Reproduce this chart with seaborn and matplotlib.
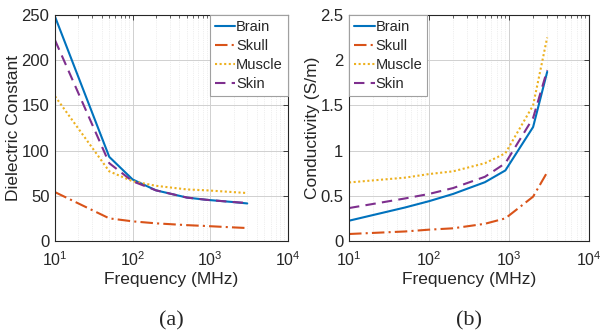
import numpy as np
import pandas as pd
import matplotlib
matplotlib.use("Agg")
import matplotlib.pyplot as plt
import seaborn as sns
from matplotlib.ticker import FuncFormatter, LogLocator, NullFormatter

# ---- data ----
freq = [10, 50, 100, 200, 500, 900, 2000, 3000]
tissues = ["Brain", "Skull", "Muscle", "Skin"]
eps_brain = [248, 93, 68, 56, 48, 45.5, 43, 41.5]
eps_skull = [54, 25, 21.7, 19.5, 17.5, 16.5, 15, 14.3]
eps_muscle = [160, 77, 66, 61, 57, 56, 54, 53]
eps_skin = [222, 86, 66, 56, 48, 45.5, 43, 42]

sig_brain = [0.224, 0.37, 0.44, 0.52, 0.65, 0.78, 1.26, 1.87]
sig_skull = [0.077, 0.105, 0.125, 0.14, 0.19, 0.25, 0.49, 0.76]
sig_muscle = [0.647, 0.70, 0.74, 0.77, 0.86, 0.97, 1.50, 2.25]
sig_skin = [0.364, 0.47, 0.52, 0.585, 0.71, 0.86, 1.36, 1.89]

xlabel = "Frequency (MHz)"
ylabels = ["Dielectric Constant", "Conductivity (S/m)"]
captions = ["(a)", "(b)"]

colors = {"Brain": "#0072BD", "Skull": "#D95319", "Muscle": "#EDB120", "Skin": "#7E2F8E"}
dashes = {"Brain": "", "Skull": (6, 2, 1, 2), "Muscle": (1, 1.2), "Skin": (5, 3)}

def frame(vals):
    rows = []
    for t, v in zip(tissues, vals):
        for f, y in zip(freq, v):
            rows.append({"Frequency": f, "Value": y, "Tissue": t})
    return pd.DataFrame(rows)

df_eps = frame([eps_brain, eps_skull, eps_muscle, eps_skin])
df_sig = frame([sig_brain, sig_skull, sig_muscle, sig_skin])

sns.set_theme(style="white")
plt.rcParams["font.family"] = ["Liberation Sans", "DejaVu Sans"]
plt.rcParams["mathtext.fontset"] = "custom"
plt.rcParams["mathtext.rm"] = "Liberation Sans"
plt.rcParams["mathtext.it"] = "Liberation Sans:italic"
plt.rcParams["mathtext.bf"] = "Liberation Sans:bold"

fig = plt.figure(figsize=(6, 3.31), dpi=100)
ax1 = fig.add_axes([0.0917, 0.272, 0.388, 0.683])
ax2 = fig.add_axes([0.5817, 0.272, 0.400, 0.683])

def style_ax(ax, df, ylim, yticks, legend_loc, ylabel, caption, ylab_x):
    sns.lineplot(data=df, x="Frequency", y="Value", hue="Tissue", style="Tissue",
                 palette=colors, dashes=dashes, hue_order=tissues, style_order=tissues,
                 linewidth=1.5, ax=ax, legend=False, estimator=None, sort=False)
    ax.set_xscale("log")
    ax.set_xlim(10, 1e4)
    ax.set_ylim(*ylim)
    ax.set_yticks(yticks)
    ax.yaxis.set_major_formatter(FuncFormatter(lambda v, p: f"{v:g}"))
    ax.xaxis.set_major_locator(LogLocator(base=10, numticks=10))
    ax.xaxis.set_minor_locator(LogLocator(base=10, subs=np.arange(2, 10), numticks=20))
    ax.xaxis.set_minor_formatter(NullFormatter())
    ax.grid(True, which="major", color="#d0d0d0", linewidth=0.7)
    ax.grid(True, which="minor", axis="x", color="#e0e0e0", linewidth=0.5, linestyle=":")
    ax.tick_params(which="both", direction="in", top=True, right=True,
                   labelsize=12, colors="#262626")
    ax.tick_params(axis="x", which="major", pad=7, labelsize=11.5)
    ax.tick_params(axis="y", which="major", pad=4)
    ax.tick_params(which="major", length=3.5, width=0.6)
    ax.tick_params(which="minor", length=2, width=0.5)
    for s in ax.spines.values():
        s.set_color("#262626")
        s.set_linewidth(0.8)
    ax.set_xlabel(xlabel, fontsize=12.5, color="#262626", labelpad=2)
    ax.set_ylabel(ylabel, fontsize=12.5, color="#262626")
    ax.yaxis.set_label_coords(ylab_x, 0.5)
    handles = [plt.Line2D([], [], color=colors[t], linewidth=1.5,
                          linestyle=(0, dashes[t]) if dashes[t] else "-") for t in tissues]
    leg = ax.legend(handles, tissues, loc=legend_loc, fontsize=10.5, frameon=True,
                    fancybox=False, edgecolor="#a0a0a0", framealpha=1,
                    borderaxespad=0, handlelength=1.4, handletextpad=0.05,
                    labelspacing=0.35, borderpad=0.35)
    leg.get_frame().set_linewidth(0.8)
    ax.text(0.5, -0.31, caption, transform=ax.transAxes, ha="center", va="top",
            fontsize=16, family=["Liberation Serif", "DejaVu Serif"])

style_ax(ax1, df_eps, (0, 250), [0, 50, 100, 150, 200, 250], "upper right",
         ylabels[0], captions[0], -0.145)
style_ax(ax2, df_sig, (0, 2.5), [0, 0.5, 1, 1.5, 2, 2.5], "upper left",
         ylabels[1], captions[1], -0.12)

fig.savefig("out.png", dpi=100)
